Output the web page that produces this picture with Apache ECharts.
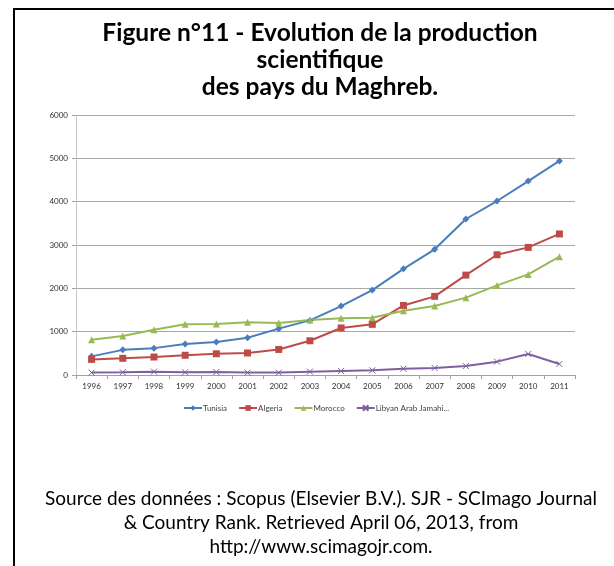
<!DOCTYPE html>
<html>
<head>
<meta charset="utf-8">
<script src="https://cdn.jsdelivr.net/npm/echarts@6/dist/echarts.min.js"></script>
<style>
    html, body { margin: 0; padding: 0; background: #fff; }
    #chart { width: 614px; height: 566px; }
</style>
</head>
<body>
<div id="chart"></div>
<script>
// années
const years = ['1996', '1997', '1998', '1999', '2000', '2001', '2002', '2003',
    '2004', '2005', '2006', '2007', '2008', '2009', '2010', '2011'];
const tunisia = [430, 580, 620, 715, 760, 860, 1070, 1260, 1590, 1960, 2450, 2900, 3600, 4015, 4475, 4940];
const algeria = [360, 385, 415, 455, 490, 508, 590, 790, 1085, 1170, 1605, 1815, 2305, 2775, 2945, 3255];
const morocco = [815, 900, 1045, 1170, 1178, 1215, 1200, 1268, 1308, 1322, 1485, 1592, 1785, 2068, 2322, 2730];
const libya = [55, 62, 77, 62, 69, 55, 55, 77, 92, 108, 146, 162, 208, 308, 485, 255];
const seriesNames = ['Tunisia', 'Algeria', 'Morocco', 'Libyan Arab Jamahi...'];

const titleText = 'Figure n°11 - Evolution de la production\nscientifique\ndes pays du Maghreb.';
const sourceText = 'Source des données : Scopus (Elsevier B.V.). SJR - SCImago Journal\n& Country Rank. Retrieved April 06, 2013, from\nhttp://www.scimagojr.com.';

const myChart = echarts.init(document.getElementById('chart'));

function makeSeries(name, data, color, symbol, size) {
    return {
        name: name,
        type: 'line',
        data: data,
        symbol: symbol,
        symbolSize: size,
        showSymbol: true,
        lineStyle: { color: color, width: 2 },
        itemStyle: { color: color, borderColor: color, borderWidth: symbol.indexOf('path') === 0 ? 1 : 0 },
        emphasis: { disabled: true },
        animation: false
    };
}

const option = {
    backgroundColor: '#fff',
    title: [{
        text: titleText,
        left: 315,
        top: 15,
        textAlign: 'center',
        textStyle: {
            fontFamily: 'Lato',
            fontSize: 24.5,
            fontWeight: 'bold',
            lineHeight: 27,
            color: '#000',
            align: 'center'
        }
    }, {
        text: sourceText,
        left: 316,
        top: 482,
        textAlign: 'center',
        textStyle: {
            fontFamily: 'Lato',
            fontSize: 19,
            fontWeight: 'normal',
            lineHeight: 24,
            color: '#000',
            align: 'center'
        }
    }],
    graphic: [{
        type: 'polyline',
        shape: { points: [[14, 566], [14, 9], [614, 9]] },
        style: { stroke: '#000', lineWidth: 2, fill: null },
        silent: true
    }],
    legend: {
        data: seriesNames,
        left: 178,
        top: 399,
        itemWidth: 18,
        itemHeight: 7,
        itemGap: 11,
        textStyle: { fontFamily: 'Lato', fontSize: 8, color: '#404040', padding: [0, 0, 0, -4] }
    },
    grid: {
        left: 76,
        right: 39,
        top: 115,
        bottom: 191
    },
    xAxis: {
        type: 'category',
        data: years,
        boundaryGap: true,
        axisLine: { lineStyle: { color: '#A0A0A0' } },
        axisTick: { show: true, length: 4, lineStyle: { color: '#A0A0A0' } },
        axisLabel: { fontFamily: 'Lato', fontSize: 8, color: '#303030', margin: 7, interval: 0 }
    },
    yAxis: {
        type: 'value',
        min: 0,
        max: 6000,
        interval: 1000,
        axisLine: { show: true, lineStyle: { color: '#C8C8C8' } },
        axisTick: { show: true, length: 4, lineStyle: { color: '#A0A0A0' } },
        axisLabel: { fontFamily: 'Lato', fontSize: 8, color: '#303030', margin: 8, formatter: function (v) { return String(v); } },
        splitLine: { show: true, lineStyle: { color: '#A8A8A8' } }
    },
    series: [
        makeSeries(seriesNames[0], tunisia, '#4A7EBB', 'diamond', 7),
        makeSeries(seriesNames[1], algeria, '#BE4B48', 'rect', 7),
        makeSeries(seriesNames[2], morocco, '#98B954', 'triangle', 7),
        makeSeries(seriesNames[3], libya, '#7D60A0', 'path://M0,0L10,10M10,0L0,10', 6)
    ]
};

myChart.setOption(option);
</script>
</body>
</html>
